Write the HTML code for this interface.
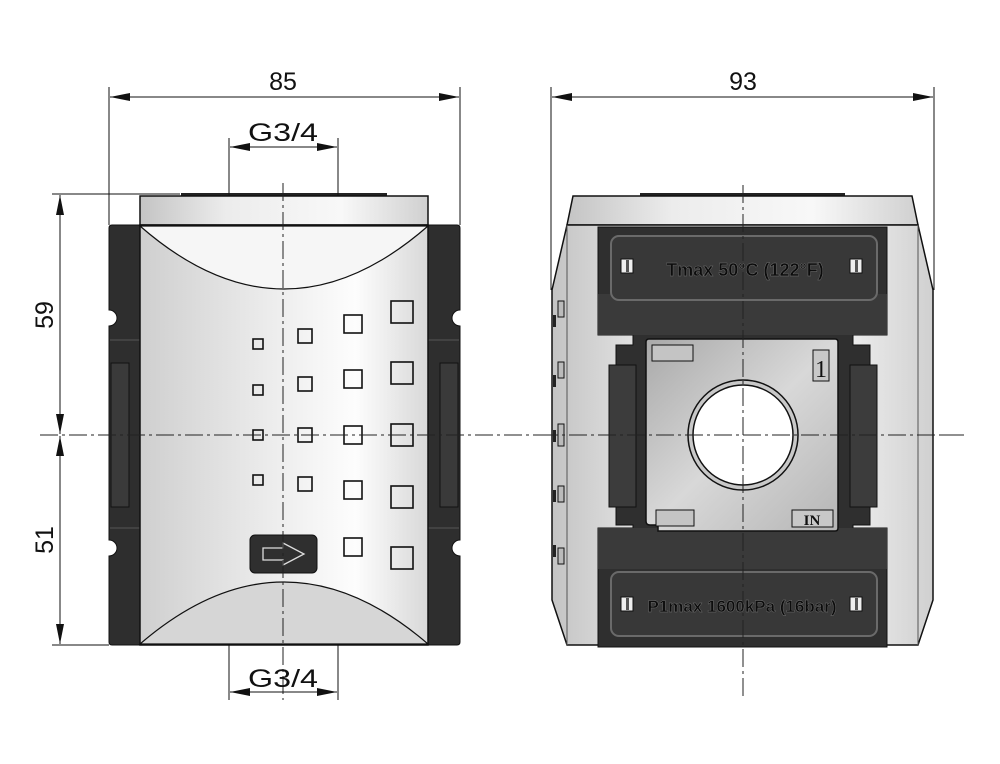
<!DOCTYPE html>
<html><head><meta charset="utf-8"><style>
html,body{margin:0;padding:0;background:#fff;}
svg{display:block;}
text{font-family:"Liberation Sans Narrow","Liberation Sans",sans-serif;fill:#111;}
</style></head><body>
<svg width="1000" height="764" viewBox="0 0 1000 764" xmlns="http://www.w3.org/2000/svg">
<defs>
<linearGradient id="sil" x1="0" x2="1" y1="0" y2="0">
<stop offset="0" stop-color="#cfcfcf"/><stop offset="0.45" stop-color="#ececec"/><stop offset="0.75" stop-color="#fdfdfd"/><stop offset="1" stop-color="#d8d8d8"/>
</linearGradient>
<linearGradient id="sil2" x1="0" x2="1" y1="0" y2="0">
<stop offset="0" stop-color="#c4c4c4"/><stop offset="0.3" stop-color="#ececec"/><stop offset="0.7" stop-color="#f8f8f8"/><stop offset="1" stop-color="#d0d0d0"/>
</linearGradient>
<linearGradient id="plate" x1="0" x2="1" y1="0" y2="1">
<stop offset="0" stop-color="#a9a9a9"/><stop offset="0.5" stop-color="#d8d8d8"/><stop offset="1" stop-color="#b5b5b5"/>
</linearGradient>
<marker id="ar" viewBox="0 0 20 8" refX="20" refY="4" markerWidth="20" markerHeight="8" markerUnits="userSpaceOnUse" orient="auto-start-reverse"><path d="M0,0 L20,4 L0,8 z" fill="#111"/></marker>
</defs>

<!-- ===== LEFT VIEW ===== -->
<rect x="181" y="193" width="206" height="4" fill="#222"/>
<rect x="140" y="196" width="288" height="29" fill="url(#sil2)" stroke="#111" stroke-width="1.5"/>
<path d="M109,228 Q109,225 112,225 H140 V645 H112 Q109,645 109,642 V556 A8,8 0 0 0 109,540 V326 A8,8 0 0 0 109,310 Z" fill="#2e2e2e" stroke="#111"/>
<path d="M460,228 Q460,225 457,225 H428 V645 H457 Q460,645 460,642 V556 A8,8 0 0 1 460,540 V326 A8,8 0 0 1 460,310 Z" fill="#2e2e2e" stroke="#111"/>
<line x1="110" y1="340" x2="140" y2="340" stroke="#555"/><line x1="110" y1="528" x2="140" y2="528" stroke="#555"/>
<line x1="428" y1="340" x2="459" y2="340" stroke="#555"/><line x1="428" y1="528" x2="459" y2="528" stroke="#555"/>
<rect x="111" y="363" width="18" height="144" fill="#3a3a3a" stroke="#111"/>
<rect x="440" y="363" width="18" height="144" fill="#3a3a3a" stroke="#111"/>
<rect x="140" y="225" width="288" height="420" fill="url(#sil)" stroke="#111" stroke-width="1.5"/>
<path d="M140,226 Q284,352 428,226 Z" fill="#f6f6f6" stroke="#111" stroke-width="1.2"/>
<path d="M140,644 Q284,520 428,644 Z" fill="#d6d6d6" stroke="#111" stroke-width="1.2"/>
<g fill="none" stroke="#111" stroke-width="1.6">
<rect x="253" y="339" width="10" height="10"/><rect x="253" y="385" width="10" height="10"/><rect x="253" y="430" width="10" height="10"/><rect x="253" y="475" width="10" height="10"/>
<rect x="298" y="329" width="14" height="14"/><rect x="298" y="377" width="14" height="14"/><rect x="298" y="428" width="14" height="14"/><rect x="298" y="477" width="14" height="14"/>
<rect x="344" y="315" width="18" height="18"/><rect x="344" y="370" width="18" height="18"/><rect x="344" y="426" width="18" height="18"/><rect x="344" y="481" width="18" height="18"/><rect x="344" y="538" width="18" height="18"/>
<rect x="391" y="301" width="22" height="22"/><rect x="391" y="362" width="22" height="22"/><rect x="391" y="424" width="22" height="22"/><rect x="391" y="486" width="22" height="22"/><rect x="391" y="547" width="22" height="22"/>
</g>
<rect x="250" y="535" width="67" height="38" rx="5" fill="#2f2f2f" stroke="#111"/>
<path d="M263,548 H283 V543 L304,554 L283,565 V560 H263 Z" fill="none" stroke="#ddd" stroke-width="1.3"/>

<line x1="283" y1="183" x2="283" y2="700" stroke="#222" stroke-dasharray="18,4,3,4"/>
<line x1="40" y1="435" x2="965" y2="435" stroke="#222" stroke-dasharray="18,4,3,4"/>

<g stroke="#111" stroke-width="1">
<line x1="109" y1="87" x2="109" y2="225"/><line x1="460" y1="87" x2="460" y2="225"/>
<line x1="110" y1="97" x2="459" y2="97" marker-start="url(#ar)" marker-end="url(#ar)"/>
<line x1="229" y1="138" x2="229" y2="196"/><line x1="338" y1="138" x2="338" y2="196"/>
<line x1="230" y1="147" x2="337" y2="147" marker-start="url(#ar)" marker-end="url(#ar)"/>
<line x1="229" y1="645" x2="229" y2="700"/><line x1="338" y1="645" x2="338" y2="700"/>
<line x1="230" y1="692" x2="337" y2="692" marker-start="url(#ar)" marker-end="url(#ar)"/>
<line x1="52" y1="194" x2="180" y2="194"/><line x1="52" y1="645" x2="109" y2="645"/>
<line x1="60" y1="195" x2="60" y2="434" marker-start="url(#ar)" marker-end="url(#ar)"/>
<line x1="60" y1="436" x2="60" y2="644" marker-start="url(#ar)" marker-end="url(#ar)"/>
</g>
<text x="283" y="90" font-size="25" text-anchor="middle">85</text>
<text x="283" y="141" font-size="25" text-anchor="middle" textLength="70" lengthAdjust="spacingAndGlyphs">G3/4</text>
<text x="283" y="687" font-size="25" text-anchor="middle" textLength="70" lengthAdjust="spacingAndGlyphs">G3/4</text>
<text transform="translate(53,315) rotate(-90)" font-size="25" text-anchor="middle">59</text>
<text transform="translate(53,540) rotate(-90)" font-size="25" text-anchor="middle">51</text>

<!-- ===== RIGHT VIEW ===== -->
<rect x="640" y="193" width="205" height="4" fill="#222"/>
<path d="M573,196 H912 L918,225 H567 Z" fill="url(#sil2)" stroke="#111" stroke-width="1.5"/>
<path d="M567,225 H918 L933,290 V600 L918,645 H567 L552,600 V290 Z" fill="url(#sil2)" stroke="#111" stroke-width="1.5"/>
<line x1="567" y1="225" x2="567" y2="645" stroke="#555"/><line x1="918" y1="225" x2="918" y2="645" stroke="#555"/>
<g fill="#bbb" stroke="#111">
<rect x="558" y="301" width="6" height="16"/><rect x="558" y="362" width="6" height="16"/><rect x="558" y="424" width="6" height="22"/><rect x="558" y="486" width="6" height="16"/><rect x="558" y="548" width="6" height="16"/>
</g>
<g fill="#222"><rect x="553" y="315" width="3" height="12"/><rect x="553" y="375" width="3" height="12"/><rect x="553" y="430" width="3" height="12"/><rect x="553" y="490" width="3" height="12"/><rect x="553" y="545" width="3" height="12"/></g>
<path d="M598,227 H887 V335 H853 V345 H870 V365 H877 V507 H870 V525 H853 V528 H887 V647 H598 V528 H633 V525 H616 V507 H609 V365 H616 V345 H633 V335 H598 Z" fill="#2f2f2f" stroke="#111"/>
<rect x="598" y="294" width="289" height="41" fill="#3a3a3a"/>
<rect x="598" y="528" width="289" height="41" fill="#3a3a3a"/>
<rect x="609" y="365" width="27" height="142" fill="#3c3c3c" stroke="#111"/>
<rect x="850" y="365" width="27" height="142" fill="#3c3c3c" stroke="#111"/>
<rect x="611" y="236" width="266" height="64" rx="8" fill="#383838" stroke="#6a6a6a" stroke-width="2"/>
<rect x="611" y="572" width="266" height="64" rx="8" fill="#383838" stroke="#6a6a6a" stroke-width="2"/>
<g fill="#eee" stroke="#111"><rect x="621" y="259" width="12" height="14"/><rect x="850" y="259" width="12" height="14"/><rect x="621" y="597" width="12" height="14"/><rect x="850" y="597" width="12" height="14"/></g>
<g fill="#555"><rect x="626" y="260" width="3" height="12"/><rect x="855" y="260" width="3" height="12"/><rect x="626" y="598" width="3" height="12"/><rect x="855" y="598" width="3" height="12"/></g>
<text x="745" y="276" font-size="18" text-anchor="middle" style="fill:#0c0c0c;font-family:'Liberation Sans',sans-serif;font-weight:bold" stroke="#777" stroke-width="0.4">Tmax 50°C (122°F)</text>
<text x="742" y="612" font-size="17" text-anchor="middle" style="fill:#0c0c0c;font-family:'Liberation Sans',sans-serif;font-weight:bold" stroke="#777" stroke-width="0.4">P1max 1600kPa (16bar)</text>
<path d="M646,342 Q646,339 649,339 H835 Q838,339 838,342 V528 Q838,531 835,531 H658 V525 H650 Q646,525 646,521 Z" fill="url(#plate)" stroke="#111" stroke-width="1.5"/>
<rect x="652" y="345" width="41" height="16" fill="#c4c4c4" stroke="#111"/>
<rect x="656" y="510" width="38" height="16" fill="#c4c4c4" stroke="#111"/>
<rect x="813" y="350" width="16" height="31" fill="#c8c8c8" stroke="#111"/>
<text x="821" y="377" font-size="24" text-anchor="middle" style="font-family:'Liberation Serif',serif">1</text>
<rect x="792" y="510" width="41" height="17" fill="#c8c8c8" stroke="#111"/>
<text x="812" y="525" font-size="15" text-anchor="middle" style="font-family:'Liberation Serif',serif;font-weight:bold">IN</text>
<circle cx="743" cy="435" r="55" fill="#c8c8c8" stroke="#111" stroke-width="1.5"/>
<circle cx="743" cy="435" r="50" fill="#fff" stroke="#111" stroke-width="1.5"/>
<line x1="743" y1="185" x2="743" y2="700" stroke="#222" stroke-dasharray="18,4,3,4"/>
<line x1="540" y1="435" x2="965" y2="435" stroke="#222" stroke-dasharray="18,4,3,4"/>
<g stroke="#111">
<line x1="551" y1="87" x2="551" y2="290"/><line x1="934" y1="87" x2="934" y2="290"/>
<line x1="552" y1="97" x2="933" y2="97" marker-start="url(#ar)" marker-end="url(#ar)"/>
</g>
<text x="743" y="90" font-size="25" text-anchor="middle">93</text>
</svg>
</body></html>
